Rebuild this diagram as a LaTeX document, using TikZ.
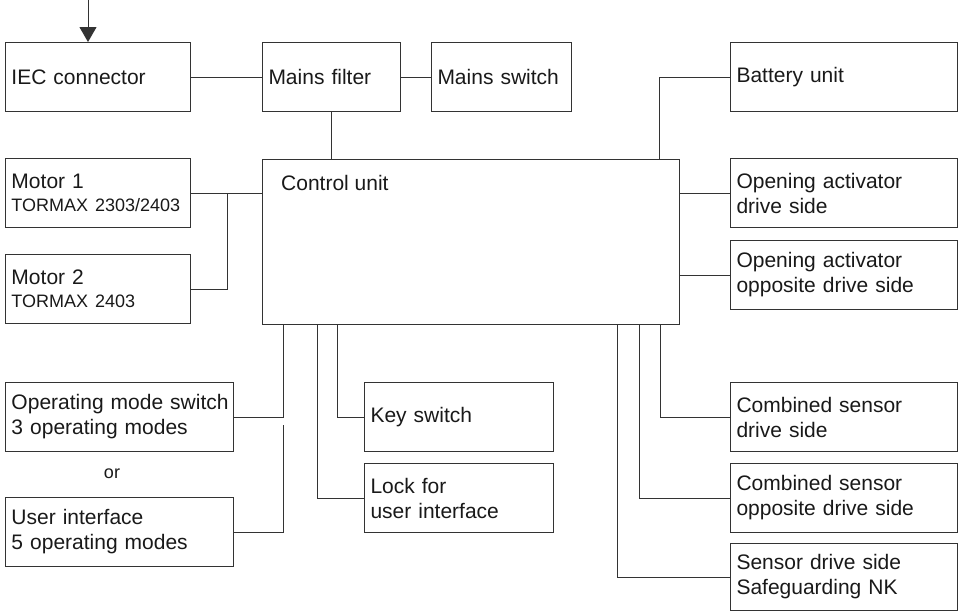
\documentclass[tikz,border=0pt]{standalone}
\usepackage{fontspec}
\setmainfont{Liberation Sans}
\usetikzlibrary{arrows.meta}
\newcommand\mainsize{\fontsize{21}{25}\selectfont}
\newcommand\smallsize{\fontsize{18}{22}\selectfont}
\tikzset{
  unit/.style={draw=black!80, line width=1pt, anchor=north west, align=left,
    text width=#1, inner xsep=6pt, inner ysep=0pt, minimum height=69pt,
    font=\mainsize, text=black!90},
  unit/.default=173pt,
  wire/.style={draw=black!80, line width=1pt},
}
\begin{document}
\begin{tikzpicture}[x=1pt,y=-1pt]
\useasboundingbox (0,0) rectangle (959,611);
% top row
\node[unit] (iec) at (5,42) {IEC connector};
\node[unit=126pt] (filter) at (262,42) {Mains filter};
\node[unit=128pt] (switch) at (431,42) {Mains switch};
\node[unit=215pt] (battery) at (730,42) {Battery unit};
% control unit
\node[draw=black!80, line width=1pt, anchor=north west,
  minimum width=417pt, minimum height=165pt] (ctrl) at (262,159) {};
\node[anchor=west, inner sep=0pt, font=\mainsize, text=black!90] (ctrllabel)
  at ([xshift=19pt,yshift=-24pt]ctrl.north west) {Control unit};
% left side
\node[unit] (motorA) at (5,158) {Motor 1\\[-2pt]{\smallsize TORMAX~2303/2403}};
\node[unit] (motorB) at (5,254) {Motor 2\\[-2pt]{\smallsize TORMAX~2403}};
\node[unit=216pt] (modesw) at (5,382) {Operating~mode~switch\\3 operating modes};
\node[font=\smallsize, text=black!90, inner sep=0pt] (or) at (112,474) {or};
\node[unit=216pt] (userif) at (5,497) {User interface\\5 operating modes};
% below the control unit
\node[unit=177pt] (key) at (364,382) {Key switch};
\node[unit=177pt] (lock) at (364,463) {Lock for\\user interface};
% right side
\node[unit=215pt] (openA) at (730,158) {Opening activator\\drive side};
\node[unit=215pt] (openB) at (730,240) {Opening activator\\opposite drive side};
\node[unit=215pt] (combA) at (730,382) {Combined sensor\\drive side};
\node[unit=215pt] (combB) at (730,463) {Combined sensor\\opposite drive side};
\node[unit=215pt, minimum height=67pt] (sensor) at (730,543) {Sensor drive side\\Safeguarding NK};

% mains supply
\coordinate (feed) at (88,0);
\draw[wire, -{Triangle[length=15pt,width=17pt]}] (feed) -- (feed |- iec.north);
\draw[wire] (iec.east) -- (filter.west);
\draw[wire] (filter.east) -- (switch.west);
\draw[wire] (filter.south) -- (filter.south |- ctrl.north);
\draw[wire] (battery.west) -| ([xshift=-21pt]ctrl.north east);
% activators and motors
\draw[wire] (openA.west -| ctrl.east) -- (openA.west);
\draw[wire] (openB.west -| ctrl.east) -- (openB.west);
\draw[wire] (motorA.east) -- (motorA.east -| ctrl.west);
\draw[wire] (motorB.east) -| ([xshift=36pt]motorA.east);
% taps on the bottom edge
\coordinate (tapA) at ([xshift=21pt]ctrl.south west);
\draw[wire] (tapA) |- (modesw.east);
\draw[wire] (userif.east) -| ([yshift=-8pt]tapA |- modesw.east);
\draw[wire] ([xshift=55pt]ctrl.south west) |- (lock.west);
\draw[wire] ([xshift=75pt]ctrl.south west) |- (key.west);
\draw[wire] ([xshift=-20pt]ctrl.south east) |- (combA.west);
\draw[wire] ([xshift=-41pt]ctrl.south east) |- (combB.west);
\draw[wire] ([xshift=-63pt]ctrl.south east) |- (sensor.west);
\end{tikzpicture}
\end{document}
